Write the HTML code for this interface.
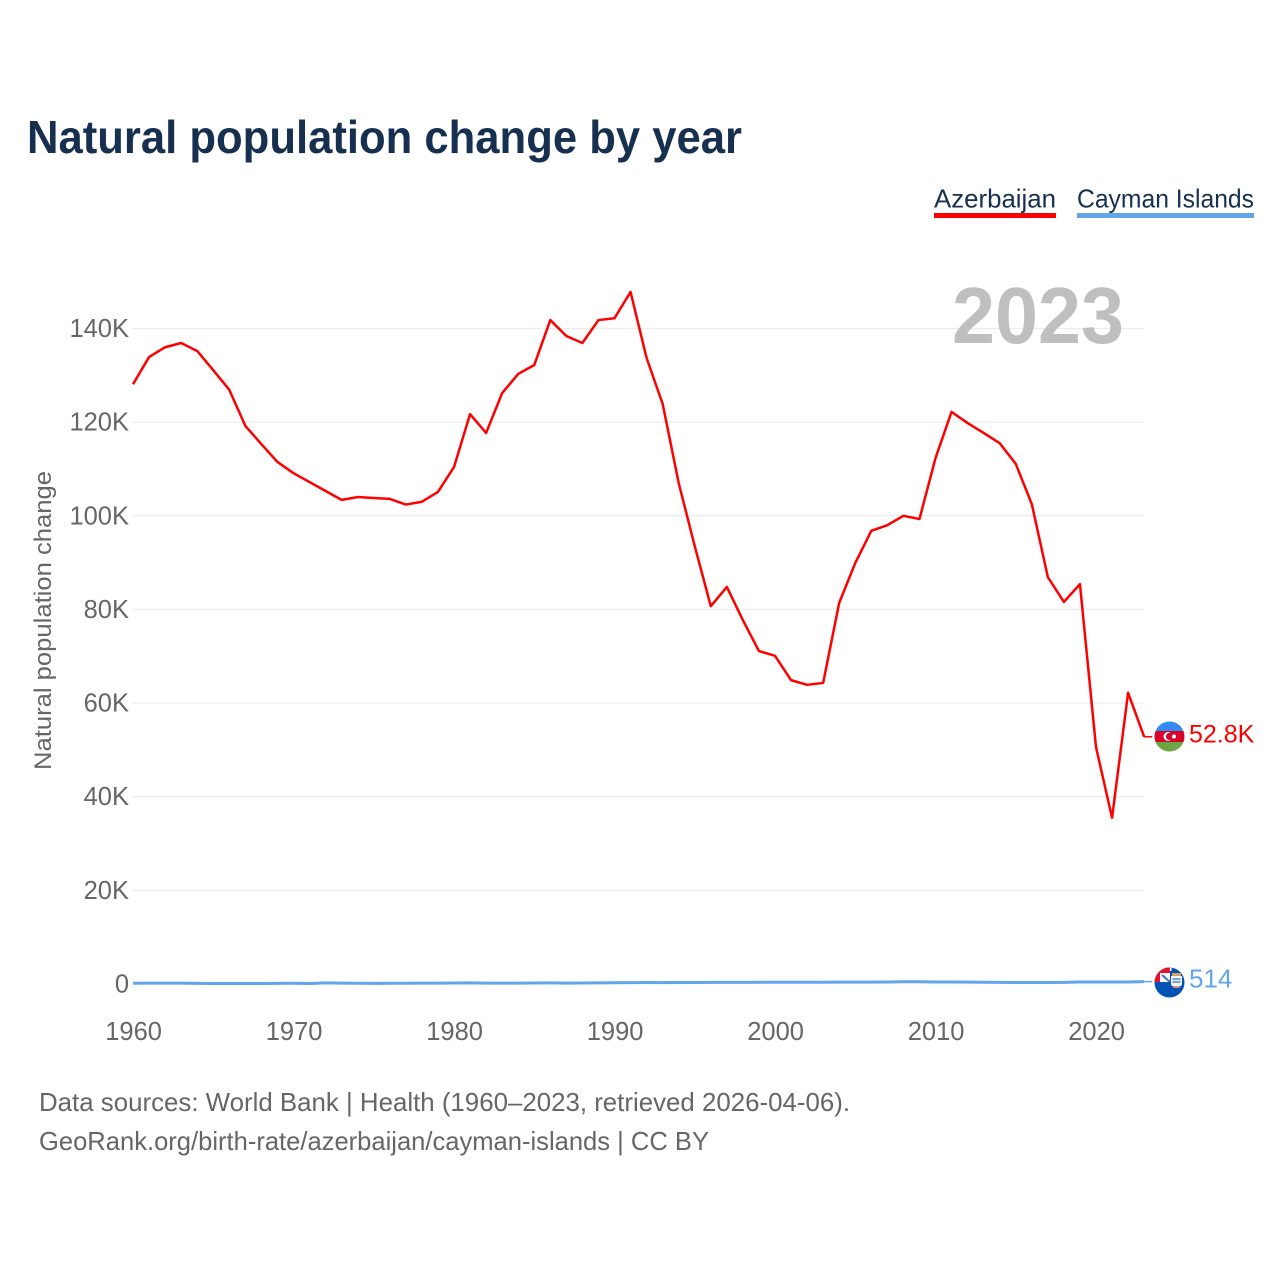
<!DOCTYPE html>
<html lang="en">
<head>
<meta charset="utf-8">
<title>Natural population change by year</title>
<style>
  html, body { margin: 0; padding: 0; background: #fff; }
  svg { display: block; font-family: "Liberation Sans", sans-serif; }
</style>
</head>
<body>
<svg id="chart" width="1280" height="1280" viewBox="0 0 1280 1280" xmlns="http://www.w3.org/2000/svg">
  <rect width="1280" height="1280" fill="#ffffff"/>
  <defs>
    <clipPath id="flag-clip-az"><circle cx="1169.5" cy="736.5" r="15"/></clipPath>
    <clipPath id="flag-clip-ky"><circle cx="1169.5" cy="982.5" r="15"/></clipPath>
  </defs>

  <text x="27" y="153" font-size="46" font-weight="700" fill="#17304f" textLength="715" lengthAdjust="spacingAndGlyphs">Natural population change by year</text>

  <g>
    <text x="934" y="207.500" font-size="26" fill="#17304f" textLength="122" lengthAdjust="spacingAndGlyphs">Azerbaijan</text>
    <rect x="934" y="213" width="122" height="5" fill="#ff0000"/>
  </g>
  <g>
    <text x="1077" y="207.500" font-size="26" fill="#17304f" textLength="177" lengthAdjust="spacingAndGlyphs">Cayman Islands</text>
    <rect x="1077" y="213" width="177" height="5" fill="#62a5ea"/>
  </g>

  <g id="grid"></g>
  <g id="y-ticks"></g>
  <g id="x-ticks"></g>

  <text x="952" y="343" font-size="80" font-weight="700" fill="#bfbfbf" textLength="172" lengthAdjust="spacingAndGlyphs">2023</text>

  <g id="series"></g>

  <text transform="translate(51,770) rotate(-90)" x="0" y="0" font-size="24" fill="#666666" textLength="299" lengthAdjust="spacingAndGlyphs">Natural population change</text>

  <g clip-path="url(#flag-clip-az)">
    <rect x="1154" y="721" width="31" height="11" fill="#338af3"/>
    <rect x="1154" y="731" width="31" height="11" fill="#d80027"/>
    <rect x="1154" y="742" width="31" height="11" fill="#6da544"/>
    <circle cx="1168" cy="736.5" r="4.5" fill="#ffffff"/>
    <circle cx="1169.5" cy="736.5" r="3.6" fill="#d80027"/>
    <circle cx="1174" cy="736.5" r="2" fill="#ffffff"/>
  </g>

  <g clip-path="url(#flag-clip-ky)">
    <rect x="1154" y="967" width="31" height="31" fill="#0052b4"/>
    <rect x="1154" y="967" width="16" height="15" fill="#e8112d"/>
    <rect x="1160" y="973" width="10" height="9" fill="#ffffff"/>
    <path d="M1162 975 L1170 982" stroke="#3a6fb5" stroke-width="2" fill="none"/>
    <rect x="1170" y="966" width="1.500" height="5" fill="#ffffff"/>
    <rect x="1172" y="973" width="9" height="3" fill="#d9a05b"/>
    <path d="M1171 976 h11 v8 q0 2 -2 2 h-7 q-2 0 -2 -2 z" fill="#f2f6fb"/>
    <path d="M1172.500 979 h8 M1172.500 982 h8" stroke="#2f73c4" stroke-width="1.200"/>
    <path d="M1172 986 h9 l-2 2 h-5 z" fill="#e8917a"/>
  </g>

  <text id="label-az" x="1189" y="742.500" font-size="25" fill="#ff0000"></text>
  <text id="label-ky" x="1189" y="987.500" font-size="26" fill="#62a5ea"></text>

  <g>
    <text x="39" y="1111" font-size="26" fill="#666666" textLength="811" lengthAdjust="spacingAndGlyphs">Data sources: World Bank | Health (1960–2023, retrieved 2026-04-06).</text>
    <text x="39" y="1150" font-size="26" fill="#666666" textLength="670" lengthAdjust="spacingAndGlyphs">GeoRank.org/birth-rate/azerbaijan/cayman-islands | CC BY</text>
  </g>
</svg>

<script>
const startYear = 1960;
const xTickYears = [1960, 1970, 1980, 1990, 2000, 2010, 2020];
const yTickValues = [0, 20000, 40000, 60000, 80000, 100000, 120000, 140000];
const yTickLabels = ["0", "20K", "40K", "60K", "80K", "100K", "120K", "140K"];
const azerbaijanValues = [
  128100, 133900, 136000, 136900, 135200, 131100, 126900, 119200, 115300, 111500,
  109100, 107200, 105300, 103400, 104000, 103800, 103600, 102400, 103000, 105100,
  110400, 121700, 117700, 126200, 130300, 132200, 141800, 138400, 136900, 141800,
  142200, 147800, 133700, 123900, 107000, 93500, 80700, 84800, 77700, 71100,
  70100, 64900, 63900, 64300, 81400, 89900, 96800, 98000, 100000, 99300,
  112300, 122200, 119800, 117700, 115500, 111100, 102500, 86900, 81600, 85400,
  50600, 35500, 62200, 52800
];
const caymanValues = [
  170, 180, 190, 180, 130, 100, 110, 120, 120, 130,
  160, 120, 240, 180, 150, 140, 150, 160, 180, 190,
  210, 240, 180, 180, 190, 220, 230, 190, 210, 250,
  280, 300, 310, 300, 310, 330, 340, 350, 350, 360,
  360, 380, 380, 380, 390, 400, 410, 430, 470, 470,
  440, 420, 400, 380, 350, 330, 320, 310, 350, 440,
  440, 430, 420, 514
];
const azerbaijanLabel = "52.8K";
const caymanLabel = "514";

const svgNS = "http://www.w3.org/2000/svg";
function xScale(year) { return 133 + (year - 1960) * 16.05; }
function yScale(value) { return 984 - value * (655.5 / 140000); }

const gridGroup = document.getElementById("grid");
const yTickGroup = document.getElementById("y-ticks");
const xTickGroup = document.getElementById("x-ticks");
const seriesGroup = document.getElementById("series");

yTickValues.forEach(function (value, i) {
  if (value !== 0) {
    const line = document.createElementNS(svgNS, "line");
    
    
    line.setAttribute("x1", 133);
    line.setAttribute("x2", 1144);
    line.setAttribute("y1", yScale(value));
    line.setAttribute("y2", yScale(value));
    line.setAttribute("stroke", "#ececec");
    line.setAttribute("stroke-width", "1.2");
    gridGroup.appendChild(line);
  }
  const label = document.createElementNS(svgNS, "text");
  
  
  label.setAttribute("x", 129);
  label.setAttribute("y", yScale(value) + 8.5);
  label.setAttribute("text-anchor", "end");
  label.setAttribute("font-size", "25.5");
  label.setAttribute("fill", "#666666");
  label.textContent = yTickLabels[i];
  yTickGroup.appendChild(label);
});

xTickYears.forEach(function (year) {
  const label = document.createElementNS(svgNS, "text");
  
  
  label.setAttribute("x", xScale(year) + 0.6);
  label.setAttribute("y", 1040);
  label.setAttribute("text-anchor", "middle");
  label.setAttribute("font-size", "25.5");
  label.setAttribute("fill", "#666666");
  label.textContent = String(year);
  xTickGroup.appendChild(label);
});

function linePoints(values) {
  return values.map(function (value, i) {
    return xScale(startYear + i).toFixed(2) + "," + yScale(value).toFixed(2);
  });
}

function lastPoint(values) {
  return [xScale(startYear + values.length - 1), yScale(values[values.length - 1])];
}

const caymanLine = document.createElementNS(svgNS, "polyline");


caymanLine.setAttribute("points", linePoints(caymanValues).join(" "));
caymanLine.setAttribute("fill", "none");
caymanLine.setAttribute("stroke", "#62a5ea");
caymanLine.setAttribute("stroke-width", "3");
seriesGroup.appendChild(caymanLine);

const azerbaijanLine = document.createElementNS(svgNS, "polyline");


azerbaijanLine.setAttribute("points", linePoints(azerbaijanValues).join(" "));
azerbaijanLine.setAttribute("fill", "none");
azerbaijanLine.setAttribute("stroke", "#ff0000");
azerbaijanLine.setAttribute("stroke-width", "2.5");
azerbaijanLine.setAttribute("stroke-linejoin", "round");
seriesGroup.appendChild(azerbaijanLine);

const azerbaijanEnd = lastPoint(azerbaijanValues);
const azerbaijanStub = document.createElementNS(svgNS, "line");


azerbaijanStub.setAttribute("x1", azerbaijanEnd[0]);
azerbaijanStub.setAttribute("x2", azerbaijanEnd[0] + 8);
azerbaijanStub.setAttribute("y1", azerbaijanEnd[1]);
azerbaijanStub.setAttribute("y2", azerbaijanEnd[1]);
azerbaijanStub.setAttribute("stroke", "#ff0000");
azerbaijanStub.setAttribute("stroke-width", "1.5");
seriesGroup.appendChild(azerbaijanStub);

const caymanEnd = lastPoint(caymanValues);
const caymanStub = document.createElementNS(svgNS, "line");


caymanStub.setAttribute("x1", caymanEnd[0]);
caymanStub.setAttribute("x2", caymanEnd[0] + 8);
caymanStub.setAttribute("y1", caymanEnd[1]);
caymanStub.setAttribute("y2", caymanEnd[1]);
caymanStub.setAttribute("stroke", "#62a5ea");
caymanStub.setAttribute("stroke-width", "1.5");
seriesGroup.appendChild(caymanStub);

document.getElementById("label-az").textContent = azerbaijanLabel;
document.getElementById("label-ky").textContent = caymanLabel;
</script>
</body>
</html>
